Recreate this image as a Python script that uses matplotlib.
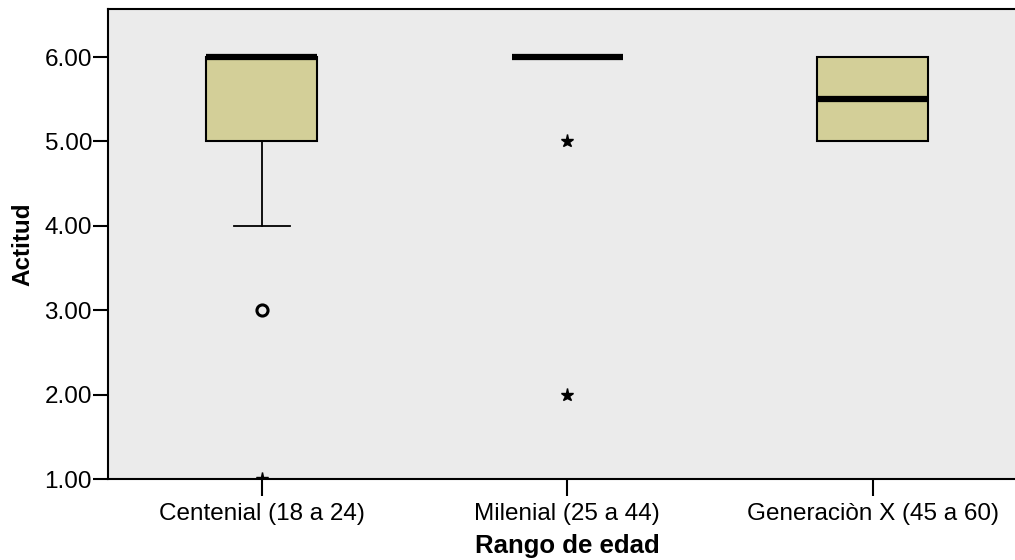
import matplotlib
matplotlib.use('Agg')
import matplotlib.pyplot as plt
import numpy as np

plt.rcParams['font.family'] = ['Liberation Sans', 'DejaVu Sans']

# data
grupos = ['Centenial (18 a 24)', 'Milenial (25 a 44)', 'Generaciòn X (45 a 60)']
q1 = [5.0, 6.0, 5.0]
mediana = [6.0, 6.0, 5.5]
q3 = [6.0, 6.0, 6.0]
bigote_inf = [4.0, 6.0, 5.0]
bigote_sup = [6.0, 6.0, 6.0]
# outliers (circle) and extremes (star)
atip_x = [0]
atip_y = [3.0]
extr_x = [0, 1, 1]
extr_y = [1.0, 5.0, 2.0]

yticks = [1, 2, 3, 4, 5, 6]

fig = plt.figure(figsize=(10.15, 5.6), dpi=100)
ax = fig.add_axes([0.1064, 0.1446, 0.905, 0.8394])
ax.set_facecolor('#EBEBEB')

stats = []
for i in range(len(grupos)):
    stats.append({'med': mediana[i], 'q1': q1[i], 'q3': q3[i],
                  'whislo': bigote_inf[i], 'whishi': bigote_sup[i],
                  'fliers': [], 'label': grupos[i]})

pos = np.arange(len(grupos))
ax.bxp(stats, positions=pos, widths=0.363, patch_artist=True, showfliers=False,
       boxprops=dict(facecolor='#D3CF98', edgecolor='black', linewidth=1.5),
       medianprops=dict(color='black', linewidth=4.5, solid_capstyle='butt'),
       whiskerprops=dict(color='black', linewidth=1.3),
       capprops=dict(color='black', linewidth=1.3),
       capwidths=0.185)

ax.plot(atip_x, atip_y, linestyle='none', marker='o', markersize=8,
        markerfacecolor='none', markeredgecolor='black', markeredgewidth=2.2, zorder=5)
ax.plot(extr_x, extr_y, linestyle='none', marker='*', markersize=9.5,
        color='black', zorder=5)

ax.set_xlim(-0.504, 2.504)
ax.set_ylim(1.0, 6.57)
ax.set_yticks(yticks)
ax.set_yticklabels(['%.2f' % v for v in yticks])
ax.set_xticks(pos)
ax.set_xticklabels(grupos)
ax.tick_params(axis='both', direction='out', length=11, width=1.5, labelsize=17.5, colors='black', pad=0.5)
ax.tick_params(axis='x', length=12.5, pad=5)

for s in ['left', 'bottom', 'top', 'right']:
    ax.spines[s].set_linewidth(1.5)
    ax.spines[s].set_color('black')

ax.set_ylabel('Actitud', fontsize=17.5, fontweight='bold', labelpad=7)
ax.set_xlabel('Rango de edad', fontsize=18.5, fontweight='bold', labelpad=6)

fig.savefig('out.png', dpi=100)
